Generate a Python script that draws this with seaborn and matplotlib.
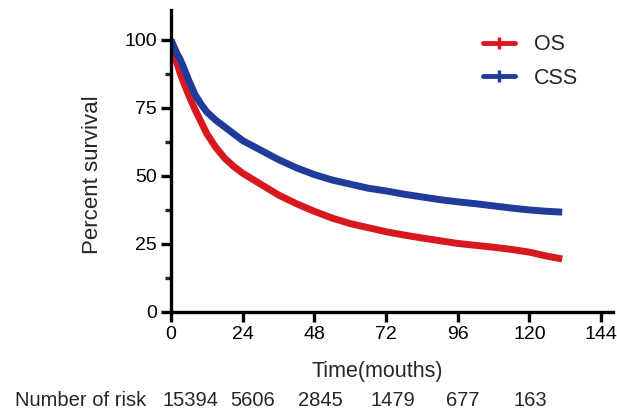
import matplotlib
matplotlib.use("Agg")
import matplotlib.pyplot as plt
from matplotlib.lines import Line2D
from matplotlib.ticker import MultipleLocator
import seaborn as sns
import pandas as pd

months = [0, 1, 2, 3, 4, 6, 8, 10, 12, 15, 18, 21, 24, 30, 36, 42, 48, 54, 60,
          66, 72, 78, 84, 90, 96, 102, 108, 114, 120, 126, 131]
os_surv = [100, 95, 91.5, 88, 85, 79.5, 74.5, 70, 65.5, 60.5, 56.5, 53.5, 51, 47,
           43, 39.8, 37, 34.5, 32.5, 31, 29.5, 28.3, 27.2, 26.2, 25.2, 24.5, 23.8,
           23, 22, 20.5, 19.5]
css_surv = [100, 97.5, 95, 93, 90.5, 85, 80, 76.5, 73.5, 70.5, 68, 65.5, 63, 59.5,
            56, 53, 50.5, 48.5, 47, 45.5, 44.5, 43.3, 42.3, 41.3, 40.5, 39.8, 39,
            38.2, 37.5, 37, 36.7]
groups = ["OS", "CSS"]
colors = {"OS": "#d7191f", "CSS": "#1f3c9b"}
xticks = [0, 24, 48, 72, 96, 120, 144]
yticks = [0, 25, 50, 75, 100]
risk_numbers = ["15394", "5606", "2845", "1479", "677", "163"]
risk_x_px = [190, 253, 320, 393, 463, 530]

df = pd.concat([
    pd.DataFrame({"month": months, "survival": os_surv, "group": "OS"}),
    pd.DataFrame({"month": months, "survival": css_surv, "group": "CSS"}),
])

sns.set_style("white")
plt.rcParams["font.family"] = ["Liberation Sans", "DejaVu Sans"]

W, H = 617, 417
fig = plt.figure(figsize=(W / 100, H / 100), dpi=100)
ax = fig.add_axes([171 / W, 1 - 312 / H, (613 - 171) / W, (312 - 10) / H])

sns.lineplot(data=df, x="month", y="survival", hue="group", palette=colors,
             hue_order=groups, estimator=None, linewidth=5,
             legend=False, ax=ax)
for ln in ax.get_lines():
    ln.set_solid_capstyle("butt")
    ln.set_solid_joinstyle("miter")

ax.set_xlim(0, 148)
ax.set_ylim(0, 111)
ax.set_xticks(xticks)
ax.set_yticks(yticks)
ax.yaxis.set_minor_locator(MultipleLocator(12.5))
ax.tick_params(axis="both", which="major", direction="out", length=7.2, width=2.4,
               labelsize=14, colors="black", pad=3, bottom=True, left=True)
ax.tick_params(axis="y", which="minor", direction="out", length=4.3, width=2.4, left=True)
for s in ["top", "right"]:
    ax.spines[s].set_visible(False)
for s in ["left", "bottom"]:
    ax.spines[s].set_linewidth(2.4)
    ax.spines[s].set_color("black")
ax.set_xlabel("")
ax.set_ylabel("Percent survival", fontsize=16)
ax.yaxis.set_label_coords(-0.154, 0.454)

fig.text(377 / W, 1 - 372 / H, "Time(mouths)", ha="center", va="center", fontsize=15.5)
fig.text(15 / W, 1 - 400 / H, "Number of risk", ha="left", va="center", fontsize=14.5)
for xp, n in zip(risk_x_px, risk_numbers):
    fig.text(xp / W, 1 - 400 / H, n, ha="center", va="center", fontsize=14.5)

handles = [Line2D([], [], color=colors[g], lw=3.5, marker="|", markersize=9,
                  markeredgewidth=2.5) for g in groups]
fig.legend(handles, groups, loc="center left", bbox_to_anchor=(483 / W, 1 - 61.5 / H),
           frameon=False, fontsize=15.5, handlelength=1.5, handletextpad=0.85,
           labelspacing=0.6, borderpad=0, borderaxespad=0, numpoints=1)

fig.savefig("out.png", dpi=100)
